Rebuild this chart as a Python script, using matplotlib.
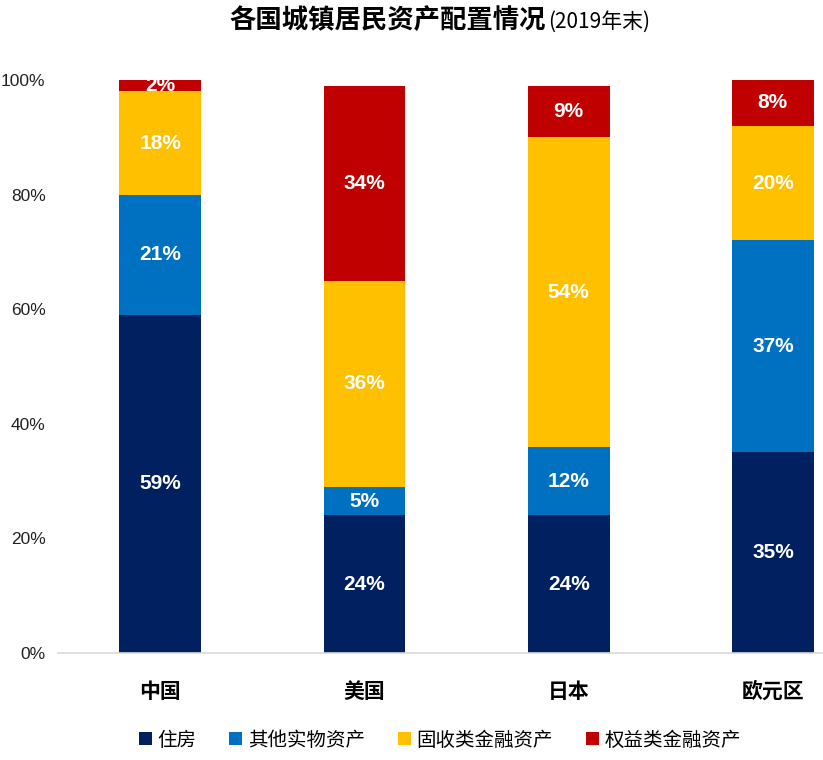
import numpy as np
import matplotlib
matplotlib.use("Agg")
import matplotlib.pyplot as plt

plt.rcParams['font.family'] = ['Liberation Sans', 'Noto Sans CJK SC', 'DejaVu Sans']

# data (percent of household assets, end of 2019)
regions = ['中国', '美国', '日本', '欧元区']
series_names = ['住房', '其他实物资产', '固收类金融资产', '权益类金融资产']
housing = [59, 24, 24, 35]
other_real = [21, 5, 12, 37]
fixed_income = [18, 36, 54, 20]
equity = [2, 34, 9, 8]
colors = ['#002060', '#0070C0', '#FFC000', '#C00000']

series = [housing, other_real, fixed_income, equity]

fig = plt.figure(figsize=(8.23, 7.6), dpi=100)
ax = fig.add_axes([58 / 823, 1 - 653 / 760, (822 - 58) / 823, (653 - 80) / 760])

x = np.arange(len(regions))
bottom = np.zeros(len(regions))
for name, vals, c in zip(series_names, series, colors):
    vals = np.array(vals, dtype=float)
    ax.bar(x, vals, width=0.4, bottom=bottom, color=c, label=name)
    for xi, b, v in zip(x, bottom, vals):
        ax.text(xi, b + v / 2, f'{int(v)}%', ha='center', va='center',
                color='white', fontsize=15, fontweight='bold')
    bottom += vals

ax.set_ylim(0, 100)
ax.set_xlim(-0.5, (822 - 160) / 204.3)
ax.set_yticks(range(0, 101, 20))
ax.set_yticklabels([f'{t}%' for t in range(0, 101, 20)], fontsize=12.5, color='#222222')
ax.set_xticks(x)
ax.set_xticklabels(regions, fontsize=15, fontweight='bold',
                   family=['Noto Sans CJK SC', 'DejaVu Sans'])
ax.tick_params(axis='y', length=0, pad=9)
ax.tick_params(axis='x', length=0, pad=20)
for s in ['top', 'right', 'left']:
    ax.spines[s].set_visible(False)
ax.spines['bottom'].set_color('#d9d9d9')
ax.spines['bottom'].set_linewidth(1.2)

# title: bold part + normal part
fig.text(546 / 823, 1 - 28 / 760, '各国城镇居民资产配置情况', ha='right', va='baseline',
         fontsize=19, fontweight='bold', family=['Noto Sans CJK SC'])
fig.text(548 / 823, 1 - 28 / 760, '(2019年末)', ha='left', va='baseline',
         fontsize=15, family=['Noto Sans CJK SC'])

fig.legend(loc='center', bbox_to_anchor=(440 / 823, 1 - 740 / 760), ncol=4,
           frameon=False, handlelength=0.65, handleheight=0.65, handletextpad=0.3,
           columnspacing=1.7, prop={'family': 'Noto Sans CJK SC', 'size': 14})

fig.savefig('out.png', dpi=100)
